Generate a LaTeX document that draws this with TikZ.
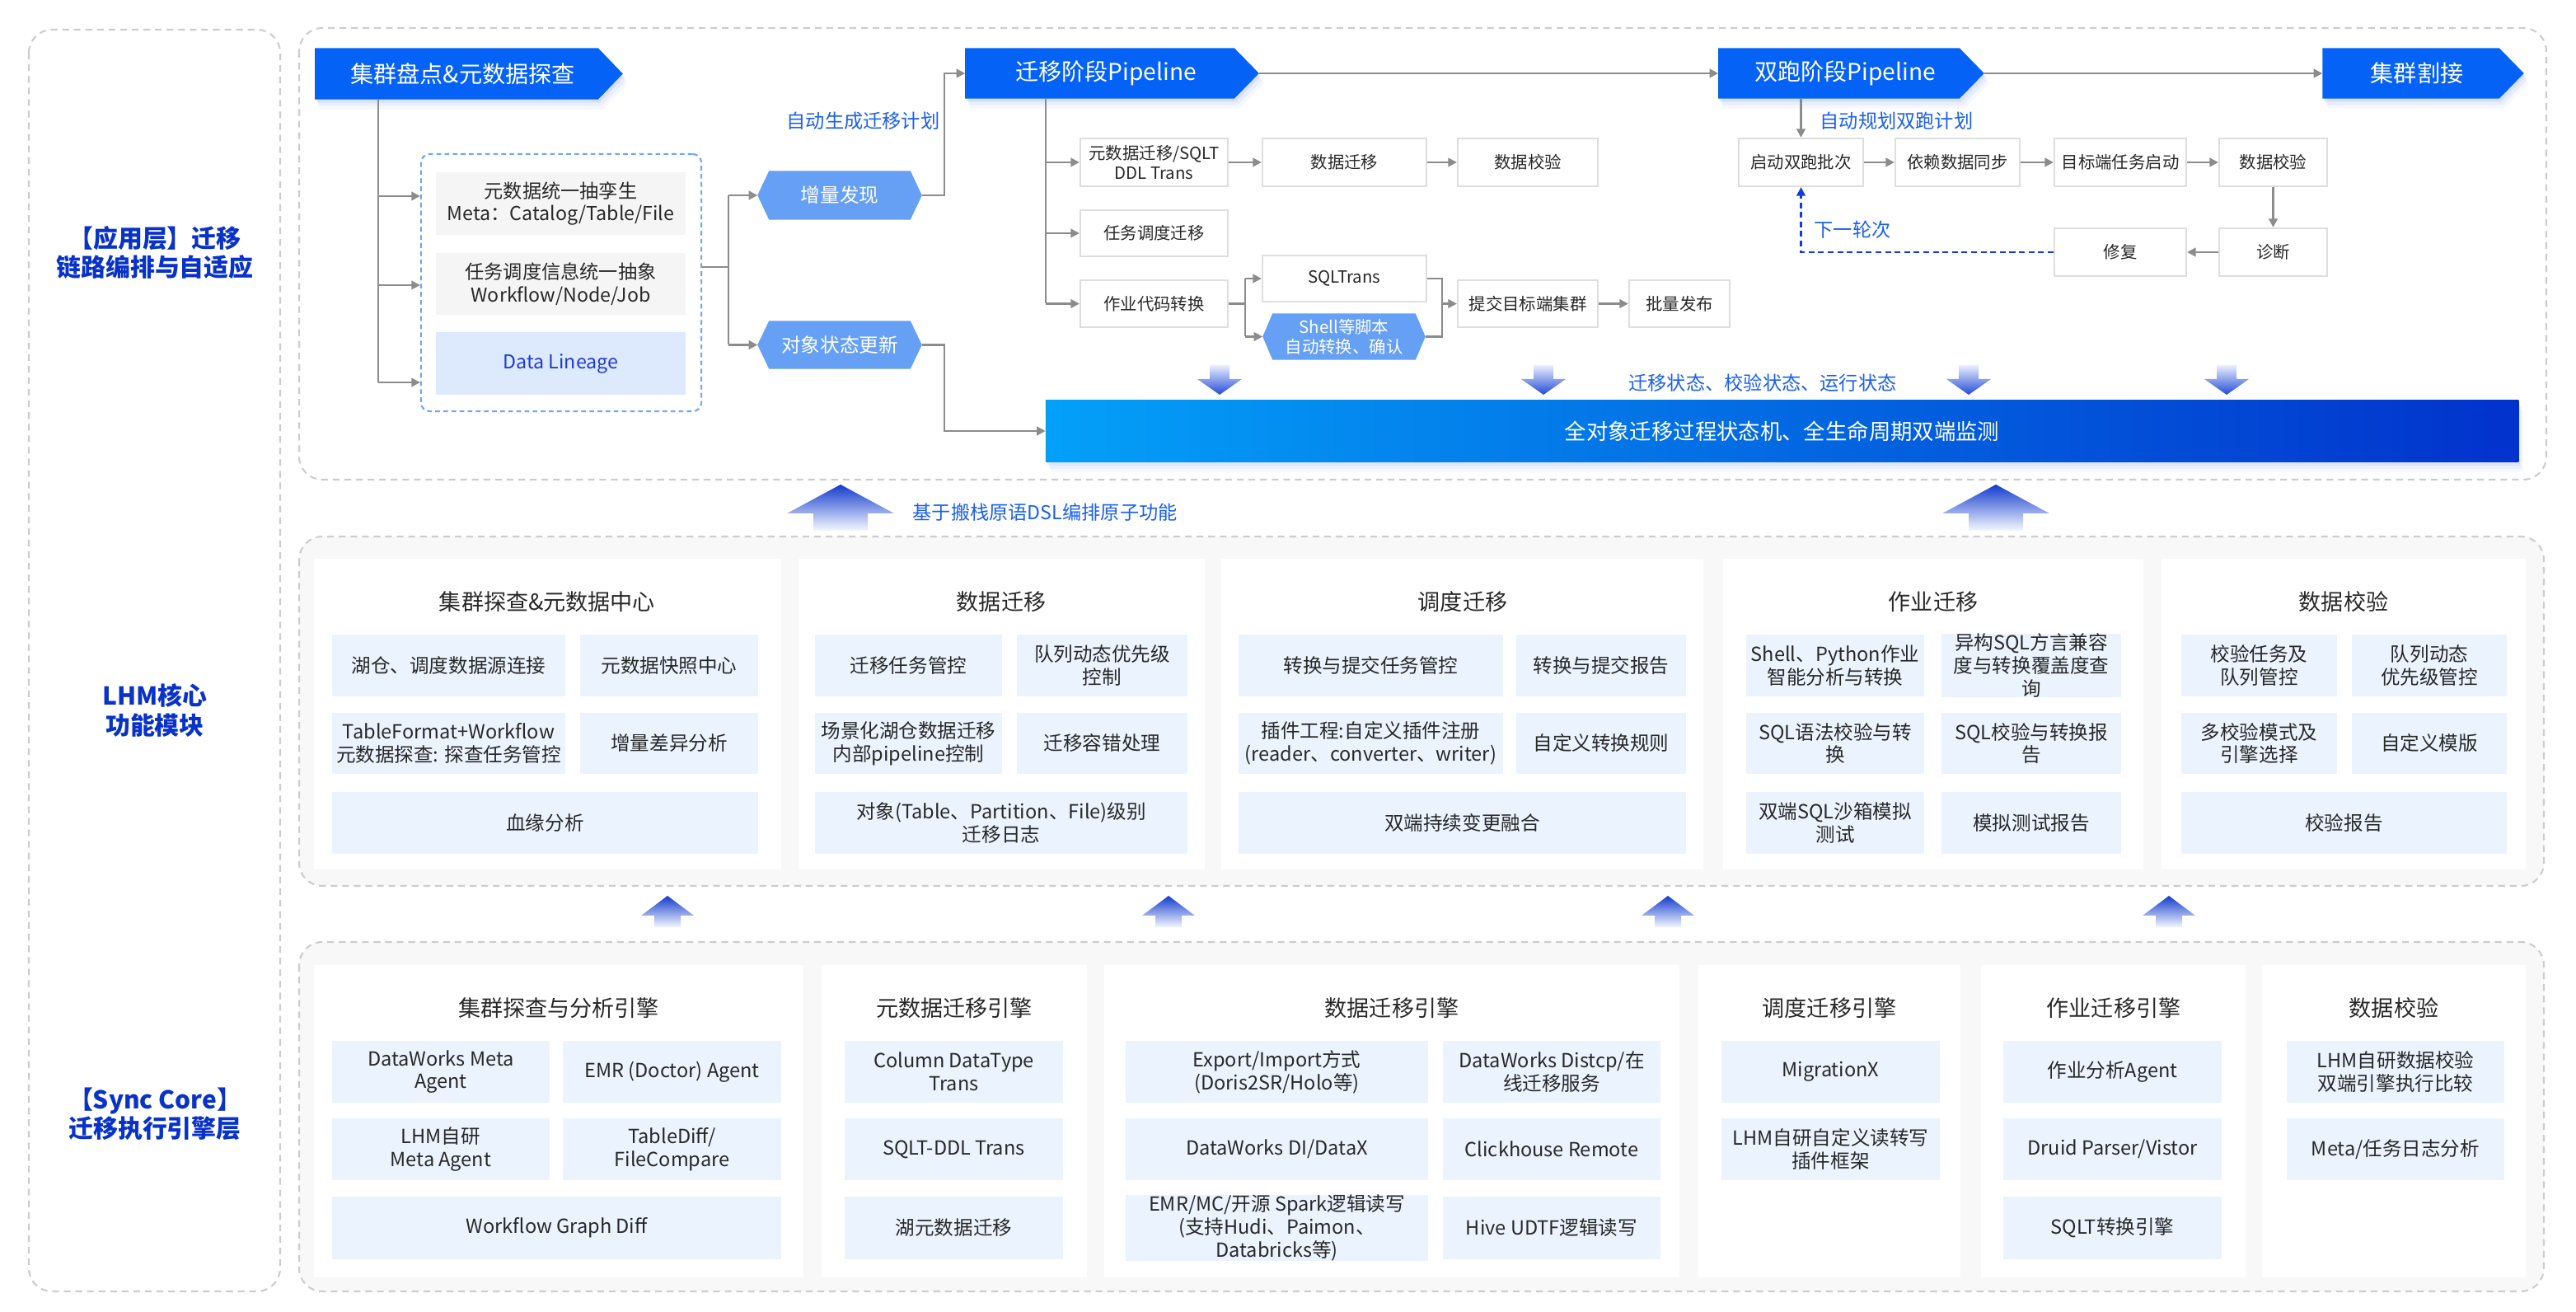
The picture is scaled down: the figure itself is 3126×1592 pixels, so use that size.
\documentclass[tikz,border=0pt]{standalone}
\usepackage{fontspec}
\setmainfont{Noto Sans CJK SC}
\usetikzlibrary{arrows.meta,calc}
\definecolor{chev}{RGB}{5,98,246}
\definecolor{hexc}{RGB}{101,160,245}
\definecolor{lgray}{RGB}{140,140,140}
\definecolor{dgray}{RGB}{205,205,205}
\definecolor{bxfill}{RGB}{235,243,254}
\definecolor{txt}{RGB}{40,40,40}
\definecolor{lbl}{RGB}{26,95,240}
\definecolor{darkl}{RGB}{8,50,200}
\definecolor{barL}{RGB}{3,160,248}
\definecolor{barR}{RGB}{2,50,204}
\definecolor{panelbg}{RGB}{248,248,248}
\definecolor{pbord}{RGB}{222,222,222}
\definecolor{dashblue}{RGB}{110,165,245}
\definecolor{linfill}{RGB}{221,233,253}
\definecolor{lintxt}{RGB}{30,60,210}
\definecolor{graybox}{RGB}{245,245,245}
\definecolor{shadowc}{RGB}{160,185,245}
\definecolor{upTop}{RGB}{20,60,205}
\definecolor{upBot}{RGB}{245,248,255}
\definecolor{dnTop}{RGB}{235,240,253}
\definecolor{dnBot}{RGB}{35,75,215}
\definecolor{loopc}{RGB}{20,60,215}
\pgfdeclarelayer{back}\pgfdeclarelayer{bg}\pgfsetlayers{back,bg,main}
\tikzset{
 pbox/.style={draw=pbord, line width=0.6pt, fill=white, inner sep=0pt, align=center, font=\fontsize{5.8}{7}\selectfont, text=txt},
 fbox/.style={fill=bxfill, inner sep=0pt, align=center, font=\fontsize{6.7}{7.9}\selectfont, text=txt},
 gbox/.style={fill=graybox, inner sep=0pt, align=center, font=\fontsize{6.6}{7.9}\selectfont, text=txt},
 linbox/.style={fill=linfill, inner sep=0pt, align=center, font=\fontsize{6.6}{7.9}\selectfont, text=lintxt},
 dashbox/.style={draw=dashblue, line width=0.6pt, dash pattern=on 1.6pt off 1.2pt, rounded corners=3pt, inner sep=0pt},
 ttl/.style={font=\fontsize{7.7}{9}\selectfont, text=txt, inner sep=0pt},
 chevt/.style={inner sep=0pt, text=white, font=\fontsize{8}{10}\selectfont},
 hext/.style={inner sep=0pt, text=white, align=center, font=\fontsize{6.7}{8}\selectfont},
 hexs/.style={inner sep=0pt, text=white, align=center, font=\fontsize{5.8}{6.8}\selectfont},
 bart/.style={inner sep=0pt, text=white, font=\fontsize{7.5}{9}\selectfont},
 conn/.style={draw=lgray, line width=0.7pt, -{Triangle[length=3pt,width=3pt]}},
 wire/.style={draw=lgray, line width=0.7pt},
 loop/.style={draw=loopc, line width=0.7pt, dash pattern=on 2pt off 1.3pt, -{Triangle[length=3pt,width=3pt]}},
 lab/.style={text=lbl, inner sep=0pt, font=\fontsize{6.6}{8}\selectfont},
 panel/.style={draw=dgray, line width=0.6pt, dash pattern=on 2.3pt off 1.7pt, rounded corners=8pt},
 side/.style={text=darkl, align=center, font=\bfseries\fontsize{8.5}{10}\selectfont, inner sep=0pt}
}
\newcommand\bx[7]{\node[#1, minimum width={(#4-#2)*0.1mm}, minimum height={(#5-#3)*0.1mm}] (#6) at ({(#2+#4)/2},{(#3+#5)/2}) {#7};}
\newcommand\chevpath[3]{($(#1.north west)+(#2,#3)$) -- ($(#1.north east)+(-15+#2,#3)$) -- ($(#1.east)+(15+#2,#3)$) -- ($(#1.south east)+(-15+#2,#3)$) -- ($(#1.south west)+(#2,#3)$) -- cycle}
\newcommand\chevron[6]{%
 \bx{chevt}{#2}{#3}{#4}{#5}{#1}{#6}%
 \begin{pgfonlayer}{bg}
 \foreach \d/\o in {4/0.22,8/0.15,12/0.09} {\fill[shadowc,opacity=\o] \chevpath{#1}{\d*0.5}{\d};}
 \fill[chev] \chevpath{#1}{0}{0};
 \end{pgfonlayer}}
\newcommand\hexpath[2]{(#1.west) -- ($(#1.north west)+(#2,0)$) -- ($(#1.north east)+(-#2,0)$) -- (#1.east) -- ($(#1.south east)+(-#2,0)$) -- ($(#1.south west)+(#2,0)$) -- cycle}
\newcommand\hexnode[8]{%
 \bx{#8}{#2}{#3}{#4}{#5}{#1}{#7}%
 \begin{pgfonlayer}{bg}\fill[hexc] \hexpath{#1}{#6};\end{pgfonlayer}}
\newcommand\uparr[5]{\shade[top color=upTop, bottom color=upBot] (#1,#2) -- ({#1+#4},#3) -- ({#1+#5},#3) -- ({#1+#5},{#3+(#3-#2)*0.6}) -- ({#1-#5},{#3+(#3-#2)*0.6}) -- ({#1-#5},#3) -- ({#1-#4},#3) -- cycle;}
\newcommand\dnarr[1]{\shade[top color=dnTop, bottom color=dnBot] ({#1-12},443) -- ({#1+12},443) -- ({#1+12},460) -- ({#1+27},460) -- (#1,479) -- ({#1-27},460) -- ({#1-12},460) -- cycle;}
\begin{document}
\begin{tikzpicture}[x=0.01cm,y=-0.01cm]
\useasboundingbox (0,0) rectangle (3126,1592);
% ---------- panels and cards ----------
\begin{pgfonlayer}{back}
\draw[panel,fill=white] (35,36) rectangle (340,1567);
\draw[panel,fill=white] (363,34) rectangle (3090,582);
\draw[panel,fill=panelbg] (363,651) rectangle (3087,1075);
\draw[panel,fill=panelbg] (363,1143) rectangle (3087,1567);
\foreach \a/\b in {381/948, 969/1462, 1482/2067, 2091/2601, 2623/3065} \fill[white] (\a,678) rectangle (\b,1055);
\foreach \a/\b in {381/975, 997/1319, 1340/2038, 2061/2379, 2404/2725, 2745/3065} \fill[white] (\a,1171) rectangle (\b,1550);
\end{pgfonlayer}
% ---------- side labels ----------
\node[side] (s1) at (188,307) {【应用层】迁移\\链路编排与自适应};
\node[side] (s2) at (188,862) {LHM核心\\功能模块};
\node[side] (s3) at (188,1352) {【Sync Core】\\迁移执行引擎层};
% ---------- top: chevrons ----------
\chevron{c1}{383}{59}{740}{120}{集群盘点\&元数据探查}
\chevron{c2}{1172}{59}{1512}{119}{迁移阶段Pipeline}
\chevron{c3}{2086}{59}{2392}{119}{双跑阶段Pipeline}
\chevron{c4}{2819}{59}{3047}{119}{集群割接}
% dashed box
\bx{dashbox}{511}{187}{851}{499}{dbox}{}
\bx{gbox}{529}{209}{832}{285}{m1}{元数据统一抽孪生\\Meta：Catalog/Table/File}
\bx{gbox}{529}{307}{832}{382}{m2}{任务调度信息统一抽象\\Workflow/Node/Job}
\bx{linbox}{529}{403}{832}{479}{m3}{Data Lineage}
% hexagons
\hexnode{h1}{920}{208}{1118}{266}{14}{增量发现}{hext}
\hexnode{h2}{920}{390}{1118}{447}{14}{对象状态更新}{hext}
\hexnode{h3}{1533}{381}{1729}{436}{12}{Shell等脚本\\自动转换、确认}{hexs}
% pipeline boxes
\bx{pbox}{1311}{168}{1490}{226}{p1}{元数据迁移/SQLT\\DDL Trans}
\bx{pbox}{1532}{168}{1731}{226}{p2}{数据迁移}
\bx{pbox}{1769}{168}{1939}{226}{p3}{数据校验}
\bx{pbox}{1311}{255}{1490}{311}{p4}{任务调度迁移}
\bx{pbox}{1311}{340}{1490}{397}{p5}{作业代码转换}
\bx{pbox}{1532}{310}{1731}{366}{p6}{SQLTrans}
\bx{pbox}{1769}{340}{1939}{397}{p7}{提交目标端集群}
\bx{pbox}{1977}{340}{2099}{397}{p8}{批量发布}
% dual-run boxes
\bx{pbox}{2110}{168}{2261}{226}{q1}{启动双跑批次}
\bx{pbox}{2300}{168}{2451}{226}{q2}{依赖数据同步}
\bx{pbox}{2493}{168}{2653}{226}{q3}{目标端任务启动}
\bx{pbox}{2693}{168}{2824}{226}{q4}{数据校验}
\bx{pbox}{2493}{277}{2653}{335}{q5}{修复}
\bx{pbox}{2693}{277}{2824}{335}{q6}{诊断}
% status bar
\bx{bart}{1270}{486}{3055}{560}{bar}{全对象迁移过程状态机、全生命周期双端监测}
\begin{pgfonlayer}{bg}
\foreach \d/\o in {4/0.2,8/0.13,12/0.08} {\fill[shadowc,opacity=\o] ($(bar.north west)+(\d*0.5,\d)$) rectangle ($(bar.south east)+(\d*0.5,\d)$);}
\shade[left color=barL, right color=barR] (bar.north west) rectangle (bar.south east);
\end{pgfonlayer}
% labels
\node[lab, anchor=east] (l1) at (1141,147) {自动生成迁移计划};
\node[lab, anchor=west] (l2) at (2208,147) {自动规划双跑计划};
\node[lab, anchor=west] (l3) at (2201,279) {下一轮次};
\node[lab] (l4) at (2139,465) {迁移状态、校验状态、运行状态};
\node[lab, anchor=west] (l5) at (1107,622) {基于搬栈原语DSL编排原子功能};
% ---------- connectors ----------
\coordinate (k1) at (459,464);
\coordinate (k2) at (459,238);
\coordinate (k3) at (459,346);
\draw[wire] (c1.south -| k1) -- (k1);
\draw[conn] (k2) -- (k2 -| dbox.west);
\draw[conn] (k3) -- (k3 -| dbox.west);
\draw[conn] (k1) -- (k1 -| dbox.west);
\coordinate (k4) at (884,324);
\draw[wire] (dbox.east |- k4) -- (k4);
\draw[wire] (k4 |- h1) -- (k4 |- h2);
\draw[conn] (k4 |- h1) -- (h1.west);
\draw[conn] (k4 |- h2) -- (h2.west);
\coordinate (k5) at (1146,300);
\draw[conn] (h1.east) -- (k5 |- h1.east) -- (k5 |- c2.west) -- (c2.west);
\draw[conn] (h2.east) -- (k5 |- h2.east) -- (k5 |- bar.west) -- (bar.west);
\coordinate (k6) at (1269,300);
\draw[wire] (c2.south -| k6) -- (k6 |- p5);
\draw[conn] (k6 |- p1) -- (p1.west);
\draw[conn] (k6 |- p4) -- (p4.west);
\draw[conn] (k6 |- p5) -- (p5.west);
\draw[conn] (p1.east) -- (p2.west);
\draw[conn] (p2.east) -- (p3.west);
\coordinate (k7) at (1511,300);
\draw[wire] (p5.east) -- (k7 |- p5.east);
\draw[wire] (k7 |- p6) -- (k7 |- h3);
\draw[conn] (k7 |- p6) -- (p6.west);
\draw[conn] (k7 |- h3) -- (h3.west);
\coordinate (k8) at (1750,300);
\draw[wire] (p6.east) -- (k8 |- p6.east) -- (k8 |- h3.east) -- (h3.east);
\draw[conn] (k8 |- p7) -- (p7.west);
\draw[conn] (p7.east) -- (p8.west);
\draw[conn] ($(c2.east)+(15,0)$) -- (c3.west);
\draw[conn] ($(c3.east)+(15,0)$) -- (c4.west);
\draw[conn] (c3.south -| q1) -- (q1.north);
\draw[conn] (q1.east) -- (q2.west);
\draw[conn] (q2.east) -- (q3.west);
\draw[conn] (q3.east) -- (q4.west);
\draw[conn] (q4.south) -- (q6.north);
\draw[conn] (q6.west) -- (q5.east);
\draw[loop] (q5.west) -- (q5.west -| q1) -- (q1.south);
% ---------- gradient arrows ----------
\dnarr{1480}\dnarr{1873}\dnarr{2389}\dnarr{2702}
\uparr{1020}{588}{623}{65}{33}
\uparr{2422}{588}{623}{65}{33}
\foreach \x in {810,1418,2024,2632} {\uparr{\x}{1087}{1111}{32}{16}}
% ---------- middle layer ----------
\node[ttl] (mt1) at (664,730) {集群探查\&元数据中心};
\node[ttl] (mt2) at (1215,730) {数据迁移};
\node[ttl] (mt3) at (1775,730) {调度迁移};
\node[ttl] (mt4) at (2346,730) {作业迁移};
\node[ttl] (mt5) at (2844,730) {数据校验};
\bx{fbox}{403}{770}{686}{845}{ma1}{湖仓、调度数据源连接}
\bx{fbox}{704}{770}{920}{845}{ma2}{元数据快照中心}
\bx{fbox}{403}{865}{686}{939}{ma3}{TableFormat+Workflow\\元数据探查: 探查任务管控}
\bx{fbox}{704}{865}{920}{939}{ma4}{增量差异分析}
\bx{fbox}{403}{961}{920}{1036}{ma5}{血缘分析}
\bx{fbox}{989}{770}{1216}{845}{mb1}{迁移任务管控}
\bx{fbox}{1234}{770}{1441}{845}{mb2}{队列动态优先级\\控制}
\bx{fbox}{989}{865}{1216}{939}{mb3}{场景化湖仓数据迁移\\内部pipeline控制}
\bx{fbox}{1234}{865}{1441}{939}{mb4}{迁移容错处理}
\bx{fbox}{989}{961}{1441}{1036}{mb5}{对象(Table、Partition、File)级别\\迁移日志}
\bx{fbox}{1503}{770}{1824}{845}{mc1}{转换与提交任务管控}
\bx{fbox}{1840}{770}{2046}{845}{mc2}{转换与提交报告}
\bx{fbox}{1503}{865}{1824}{939}{mc3}{插件工程:自定义插件注册\\(reader、converter、writer)}
\bx{fbox}{1840}{865}{2046}{939}{mc4}{自定义转换规则}
\bx{fbox}{1503}{961}{2046}{1036}{mc5}{双端持续变更融合}
\bx{fbox}{2119}{770}{2335}{845}{md1}{Shell、Python作业\\智能分析与转换}
\bx{fbox}{2356}{770}{2574}{845}{md2}{异构SQL方言兼容\\度与转换覆盖度查\\询}
\bx{fbox}{2119}{865}{2335}{939}{md3}{SQL语法校验与转\\换}
\bx{fbox}{2356}{865}{2574}{939}{md4}{SQL校验与转换报\\告}
\bx{fbox}{2119}{961}{2335}{1036}{md5}{双端SQL沙箱模拟\\测试}
\bx{fbox}{2356}{961}{2574}{1036}{md6}{模拟测试报告}
\bx{fbox}{2647}{770}{2836}{845}{me1}{校验任务及\\队列管控}
\bx{fbox}{2854}{770}{3042}{845}{me2}{队列动态\\优先级管控}
\bx{fbox}{2647}{865}{2836}{939}{me3}{多校验模式及\\引擎选择}
\bx{fbox}{2854}{865}{3042}{939}{me4}{自定义模版}
\bx{fbox}{2647}{961}{3042}{1036}{me5}{校验报告}
% ---------- bottom layer ----------
\node[ttl] (bt1) at (678,1223) {集群探查与分析引擎};
\node[ttl] (bt2) at (1158,1223) {元数据迁移引擎};
\node[ttl] (bt3) at (1689,1223) {数据迁移引擎};
\node[ttl] (bt4) at (2220,1223) {调度迁移引擎};
\node[ttl] (bt5) at (2565,1223) {作业迁移引擎};
\node[ttl] (bt6) at (2905,1223) {数据校验};
\bx{fbox}{403}{1263}{667}{1338}{ba1}{DataWorks Meta\\Agent}
\bx{fbox}{683}{1263}{948}{1338}{ba2}{EMR (Doctor) Agent}
\bx{fbox}{403}{1357}{667}{1432}{ba3}{LHM自研\\Meta Agent}
\bx{fbox}{683}{1357}{948}{1432}{ba4}{TableDiff/\\FileCompare}
\bx{fbox}{403}{1452}{948}{1528}{ba5}{Workflow Graph Diff}
\bx{fbox}{1025}{1263}{1290}{1338}{bb1}{Column DataType\\Trans}
\bx{fbox}{1025}{1357}{1290}{1432}{bb2}{SQLT-DDL Trans}
\bx{fbox}{1025}{1452}{1290}{1528}{bb3}{湖元数据迁移}
\bx{fbox}{1366}{1263}{1733}{1338}{bc1}{Export/Import方式\\(Doris2SR/Holo等)}
\bx{fbox}{1751}{1263}{2015}{1338}{bc2}{DataWorks Distcp/在\\线迁移服务}
\bx{fbox}{1366}{1357}{1733}{1432}{bc3}{DataWorks DI/DataX}
\bx{fbox}{1751}{1357}{2015}{1432}{bc4}{Clickhouse Remote}
\bx{fbox}{1366}{1452}{1733}{1528}{bc5}{EMR/MC/开源 Spark逻辑读写\\(支持Hudi、Paimon、\\Databricks等)}
\bx{fbox}{1751}{1452}{2015}{1528}{bc6}{Hive UDTF逻辑读写}
\bx{fbox}{2089}{1263}{2354}{1338}{bd1}{MigrationX}
\bx{fbox}{2089}{1357}{2354}{1432}{bd2}{LHM自研自定义读转写\\插件框架}
\bx{fbox}{2431}{1263}{2696}{1338}{be1}{作业分析Agent}
\bx{fbox}{2431}{1357}{2696}{1432}{be2}{Druid Parser/Vistor}
\bx{fbox}{2431}{1452}{2696}{1528}{be3}{SQLT转换引擎}
\bx{fbox}{2775}{1263}{3039}{1338}{bf1}{LHM自研数据校验\\双端引擎执行比较}
\bx{fbox}{2775}{1357}{3039}{1432}{bf2}{Meta/任务日志分析}
\end{tikzpicture}
\end{document}
